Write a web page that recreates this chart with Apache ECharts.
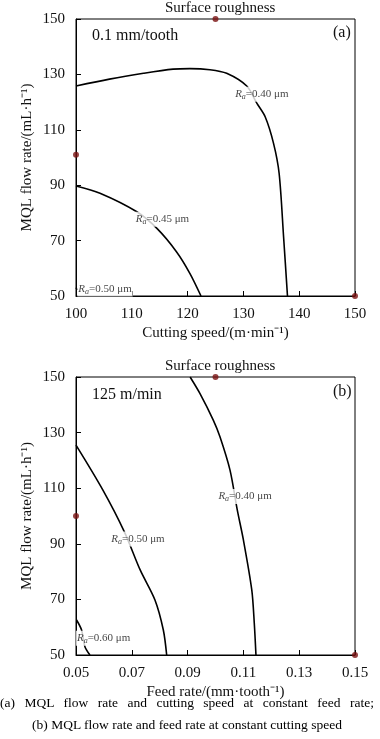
<!DOCTYPE html>
<html><head><meta charset="utf-8">
<script src="https://cdn.jsdelivr.net/npm/echarts@6/dist/echarts.min.js"></script>
<style>
html,body{margin:0;padding:0;background:#fff;}
#c{width:380px;height:739px;position:absolute;left:0;top:0;}
.cap{position:absolute;left:0;width:374px;font-family:"Liberation Serif","Times New Roman",serif;font-size:13.5px;color:#000;line-height:16px;}
</style></head>
<body>
<div id="c"></div>
<div class="cap" style="top:695px;text-align:justify;text-align-last:justify;">(a) MQL flow rate and cutting speed at constant feed rate;</div>
<div class="cap" style="top:717px;text-align:center;">(b) MQL flow rate and feed rate at constant cutting speed</div>
<script>
// ---- data ----
const speedTicks = [100, 110, 120, 130, 140, 150];
const feedTicks = [0.05, 0.07, 0.09, 0.11, 0.13, 0.15];
const flowTicks = [50, 70, 90, 110, 130, 150];

// (a) MQL flow rate vs cutting speed (feed 0.1 mm/tooth)
const a_Ra040 = [[100,125.8],[106,128.3],[112.1,130.4],[117.4,131.9],[120.4,132.1],[124.0,131.7],[127.0,130.4],[130.6,125.8],[132.4,119.6],[133.9,114.7],[135.4,105.1],[136.4,94.3],[137.2,71.4],[137.9,50]];
const a_Ra045 = [[100,89.7],[104.3,87.1],[110.9,80.4],[114.5,74.4],[118.0,66.0],[120.4,58.2],[122.4,50]];
const a_Ra050 = [[100,53.0],[100.25,52.2]];
const a_points = [[125,150],[100,101],[150,50]];

// (b) MQL flow rate vs feed rate (125 m/min)
const b_Ra040 = [[0.0909,150],[0.0944,144.1],[0.0992,134.5],[0.1016,128.5],[0.1052,116.5],[0.1078,102.2],[0.1100,91.4],[0.1130,73.4],[0.1139,61.4],[0.1145,50]];
const b_Ra050 = [[0.05,125.5],[0.0596,109.4],[0.0673,94.4],[0.0730,80.6],[0.0783,69.8],[0.0813,59.0],[0.0825,50]];
const b_Ra060 = [[0.0502,62.6],[0.0520,59.0],[0.0532,53.0],[0.0550,50]];
const b_points = [[0.10,150],[0.05,100],[0.15,50]];

// contour labels: [x, y, text]
const a_labels = [[133.3,122.8,'0.40'],[115.5,77.7,'0.45'],[105.2,52.5,'0.50']];
const b_labels = [[0.1106,107.0,'0.40'],[0.0722,91.7,'0.50'],[0.0599,56.0,'0.60']];

// ---- chart ----
const FONT = '"Liberation Serif","Times New Roman",serif';
const chart = echarts.init(document.getElementById('c'), null, {renderer:'canvas'});

function xAx(idx, min, max, interval, name, fmt){
  return {gridIndex:idx, type:'value', min:min, max:max, interval:interval,
    name:name, nameLocation:'middle', nameGap:30,
    nameTextStyle:{fontFamily:FONT, fontSize:15, color:'#111'},
    axisLine:{lineStyle:{color:'#000', width:1}},
    axisTick:{inside:true, length:5, lineStyle:{color:'#000'}},
    axisLabel:{fontFamily:FONT, fontSize:15, color:'#111', margin:11, formatter:fmt},
    splitLine:{show:false}};
}
function yAx(idx){
  return {gridIndex:idx, type:'value', min:flowTicks[0], max:flowTicks[flowTicks.length-1], interval:flowTicks[1]-flowTicks[0],
    name:'MQL flow rate/(mL·h⁻¹)', nameLocation:'middle', nameGap:41, nameMoveOverlap:false,
    nameTextStyle:{fontFamily:FONT, fontSize:15, color:'#111'},
    axisLine:{lineStyle:{color:'#000', width:1}},
    axisTick:{inside:true, length:5, lineStyle:{color:'#000'}},
    axisLabel:{fontFamily:FONT, fontSize:15, color:'#111', margin:11},
    splitLine:{show:false}};
}
function curve(idx, data){
  return {type:'line', xAxisIndex:idx, yAxisIndex:idx, data:data, smooth:0.3,
    symbol:'none', lineStyle:{color:'#000', width:1.6}, silent:true, z:2};
}
function pts(idx, data){
  return {type:'scatter', xAxisIndex:idx, yAxisIndex:idx, data:data, symbol:'circle',
    symbolSize:6, itemStyle:{color:'#7a1212'}, clip:false, z:5, silent:true};
}
function labs(idx, data){
  return {type:'scatter', xAxisIndex:idx, yAxisIndex:idx, symbolSize:0, z:4, silent:true,
    data:data.map(d=>({value:[d[0],d[1]], name:d[2]})),
    label:{show:true, position:'inside', backgroundColor:'#fff', padding:[1,1],
      formatter:p=>'{r|R}{s|a}{t|=' + p.name + ' μm}',
      rich:{
        r:{fontFamily:FONT, fontSize:11, fontStyle:'italic', color:'#111'},
        s:{fontFamily:FONT, fontSize:8, fontStyle:'italic', color:'#111', padding:[5,0,0,0]},
        t:{fontFamily:FONT, fontSize:11, color:'#111'}
      }}};
}

const option = {
  animation:false,
  backgroundColor:'#fff',
  title:[
    {text:'Surface roughness', top:-4, left:160, textStyle:{fontFamily:FONT, fontSize:15, fontWeight:'normal', color:'#111'}},
    {text:'Surface roughness', top:354, left:160, textStyle:{fontFamily:FONT, fontSize:15, fontWeight:'normal', color:'#111'}}
  ],
  grid:[
    {left:76, top:19, width:279, height:277, show:true, borderColor:'#000', borderWidth:1, backgroundColor:'transparent'},
    {left:76, top:377, width:279, height:278, show:true, borderColor:'#000', borderWidth:1, backgroundColor:'transparent'}
  ],
  xAxis:[
    xAx(0, speedTicks[0], speedTicks[speedTicks.length-1], speedTicks[1]-speedTicks[0], 'Cutting speed/(m·min⁻¹)', v=>String(Math.round(v))),
    xAx(1, feedTicks[0], feedTicks[feedTicks.length-1], 0.02, 'Feed rate/(mm·tooth⁻¹)', v=>v.toFixed(2))
  ],
  yAxis:[yAx(0), yAx(1)],
  graphic:[
    {type:'text', left:92, top:28, style:{text:'0.1 mm/tooth', font:'16px '+FONT, fill:'#111'}},
    {type:'text', left:333, top:25, style:{text:'(a)', font:'16px '+FONT, fill:'#111'}},
    {type:'text', left:92, top:387, style:{text:'125 m/min', font:'16px '+FONT, fill:'#111'}},
    {type:'text', left:333, top:384, style:{text:'(b)', font:'16px '+FONT, fill:'#111'}}
  ],
  series:[
    curve(0, a_Ra040), curve(0, a_Ra045), curve(0, a_Ra050),
    labs(0, a_labels), pts(0, a_points),
    curve(1, b_Ra040), curve(1, b_Ra050), curve(1, b_Ra060),
    labs(1, b_labels), pts(1, b_points)
  ]
};
chart.setOption(option);
</script>
</body></html>
